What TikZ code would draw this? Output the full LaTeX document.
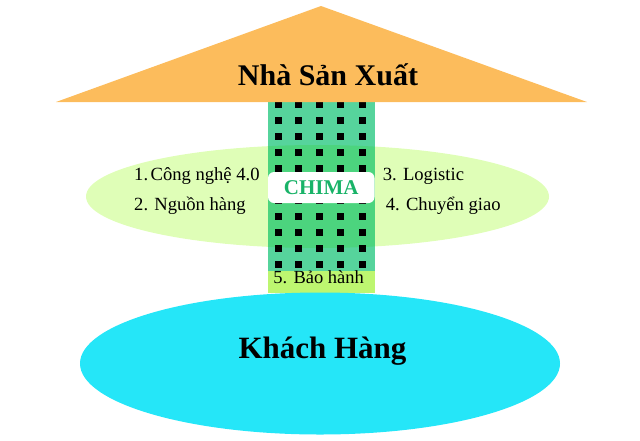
\documentclass[tikz,border=0pt]{standalone}
\usepackage{fontspec}
\setmainfont{Liberation Serif}
\definecolor{roofc}{HTML}{FCBC5C}
\definecolor{ringc}{HTML}{DFFEB7}
\definecolor{bldc}{HTML}{56D49C}
\definecolor{bldinc}{HTML}{4CD47E}
\definecolor{stripc}{HTML}{BDF670}
\definecolor{basec}{HTML}{25E6F8}
\definecolor{chimac}{HTML}{19B368}
\tikzset{
  itemtxt/.style={font=\fontsize{18.6}{21}\selectfont, inner sep=0pt, anchor=base west},
  bigtxt/.style={font=\fontsize{31}{36}\selectfont\bfseries, inner sep=0pt},
  winbox/.style={fill=black},
}
\begin{document}
\begin{tikzpicture}[x=1pt,y=-1pt]
\useasboundingbox (0,0) rectangle (640,440);
% light ellipse
\fill[ringc] (317.5,196.5) ellipse [x radius=231.5, y radius=51.5];
% building
\fill[bldc] (268,95) rectangle (374.5,271);
\begin{scope}
  \clip (317.5,196.5) ellipse [x radius=231.5, y radius=51.5];
  \fill[bldinc] (268,95) rectangle (374.5,271);
\end{scope}
\foreach \cx in {278.4,298.6,319.4,340.6,362.6}{
  \foreach \i in {0,...,10}{
    \fill[winbox] ({\cx-3.7},{104.7+16*\i-3.7}) rectangle ++(7.4,7.4);
  }
}
% bottom strip
\fill[stripc] (268,271) rectangle (374.5,293);
\node[font=\fontsize{18.5}{21}\selectfont, inner sep=0pt, anchor=base] (warranty) at (318.7,283) {5. Bảo hành};
% CHIMA label
\node[fill=white, rounded corners=6pt, minimum width=106.5pt, minimum height=31pt, inner sep=0pt,
      font=\fontsize{21}{24}\selectfont\bfseries, text=chimac] (chima) at (321.25,187.5) {CHIMA};
% roof
\fill[roofc] (56,102) -- (321,6) -- (587,102) -- cycle;
\node[bigtxt, font=\fontsize{30}{34}\selectfont\bfseries, anchor=base] (maker) at (328,85) {Nhà Sản Xuất};
% customer ellipse
\fill[basec] (320,363.5) ellipse [x radius=240, y radius=71];
\node[bigtxt, anchor=base] (customer) at (322.5,358) {Khách Hàng};
% items
\node[itemtxt] (item1) at (134,180.7) {1.\hspace{2.5pt}Công nghệ 4.0};
\node[itemtxt] (item2) at (134,210.5) {2. Nguồn hàng};
\node[itemtxt] (item3) at (382.7,180.7) {3. Logistic};
\node[itemtxt] (item4) at (385.7,210.5) {4. Chuyển giao};
\end{tikzpicture}
\end{document}
